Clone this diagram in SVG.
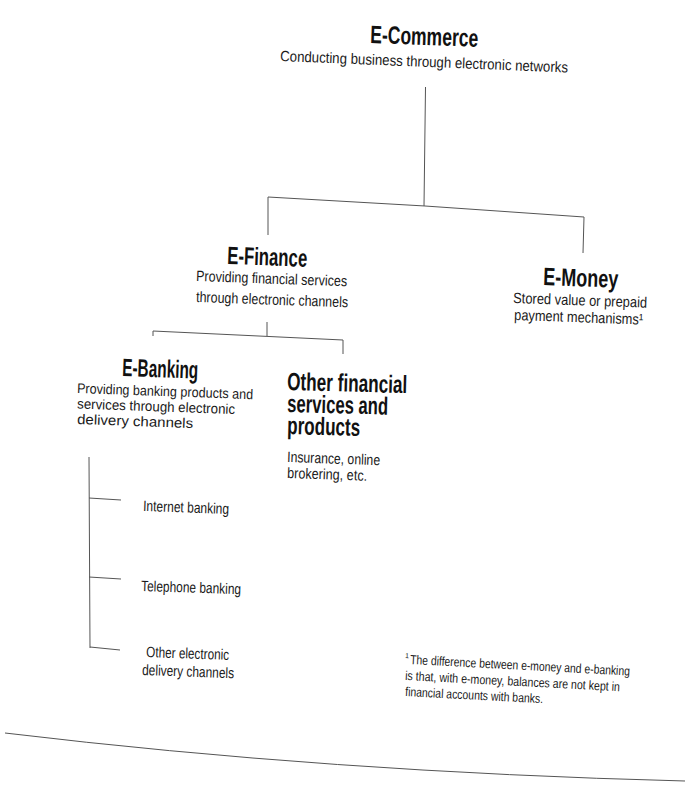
<svg xmlns="http://www.w3.org/2000/svg" width="687" height="793" viewBox="0 0 687 793">
<style>
.t{font-family:"Liberation Sans",Arial,sans-serif;font-weight:bold;font-size:25px;fill:#111}
.s{font-family:"Liberation Sans",Arial,sans-serif;font-size:15px;fill:#1a1a1a}
.s14{font-size:14px}
.f{font-family:"Liberation Sans",Arial,sans-serif;font-size:13px;fill:#1a1a1a}
.sup{font-size:7px}
.c{fill:none;stroke:#555;stroke-width:1}
</style>
<rect width="687" height="793" fill="#fff"/>
<g id="connectors">
<polyline class="c" points="425.5,87 424,206"/>
<polyline class="c" points="268,235 268,197 425,206 584,217 583,253"/>
<polyline class="c" points="267,322 267,336"/>
<polyline class="c" points="153,336 153,331 343,340 343,354"/>
<polyline class="c" points="89,457 90,648"/>
<line class="c" x1="89" y1="498" x2="121" y2="500"/>
<line class="c" x1="89" y1="577" x2="121" y2="579"/>
<line class="c" x1="90" y1="647" x2="120" y2="650"/>
</g>
<g id="ecommerce">
<text class="t" x="370" y="43" textLength="108" lengthAdjust="spacingAndGlyphs" transform="rotate(2 370 43)">E-Commerce</text>
<text class="s" x="280" y="61" textLength="288" lengthAdjust="spacingAndGlyphs" transform="rotate(2.3 280 61)">Conducting business through electronic networks</text>
</g>
<g id="efinance">
<text class="t" x="227" y="264" textLength="80" lengthAdjust="spacingAndGlyphs" transform="rotate(2 227 264)">E-Finance</text>
<text class="s" x="196" y="281" textLength="151" lengthAdjust="spacingAndGlyphs" transform="rotate(2 196 281)">Providing financial services</text>
<text class="s" x="196" y="302" textLength="152" lengthAdjust="spacingAndGlyphs" transform="rotate(2 196 302)">through electronic channels</text>
</g>
<g id="emoney">
<text class="t" x="543" y="285" textLength="75" lengthAdjust="spacingAndGlyphs" transform="rotate(2 543 285)">E-Money</text>
<text class="s" x="513" y="303" textLength="134" lengthAdjust="spacingAndGlyphs" transform="rotate(2 513 303)">Stored value or prepaid</text>
<text class="s" x="514" y="320" textLength="129" lengthAdjust="spacingAndGlyphs" transform="rotate(2 514 320)">payment mechanisms¹</text>
</g>
<g id="ebanking">
<text class="t" x="122" y="376" textLength="76" lengthAdjust="spacingAndGlyphs" transform="rotate(2 122 376)">E-Banking</text>
<text class="s s14" x="77" y="393" textLength="176" lengthAdjust="spacingAndGlyphs" transform="rotate(2 77 393)">Providing banking products and</text>
<text class="s s14" x="77" y="408.5" textLength="158" lengthAdjust="spacingAndGlyphs" transform="rotate(2 77 408.5)">services through electronic</text>
<text class="s s14" x="77" y="424" textLength="116" lengthAdjust="spacingAndGlyphs" transform="rotate(2 77 424)">delivery channels</text>
</g>
<g id="other-financial">
<text class="t" x="287" y="390" textLength="120" lengthAdjust="spacingAndGlyphs" transform="rotate(1.5 287 390)">Other financial</text>
<text class="t" x="287" y="412" textLength="101" lengthAdjust="spacingAndGlyphs" transform="rotate(1.5 287 412)">services and</text>
<text class="t" x="287" y="434" textLength="73" lengthAdjust="spacingAndGlyphs" transform="rotate(1.5 287 434)">products</text>
<text class="s" x="287" y="462" textLength="93" lengthAdjust="spacingAndGlyphs" transform="rotate(2 287 462)">Insurance, online</text>
<text class="s" x="287" y="478" textLength="80" lengthAdjust="spacingAndGlyphs" transform="rotate(2 287 478)">brokering, etc.</text>
</g>
<g id="internet-banking">
<text class="s" x="143" y="511" textLength="86" lengthAdjust="spacingAndGlyphs" transform="rotate(2 143 511)">Internet banking</text>
</g>
<g id="telephone-banking">
<text class="s" x="141" y="591" textLength="100" lengthAdjust="spacingAndGlyphs" transform="rotate(1.8 141 591)">Telephone banking</text>
</g>
<g id="other-electronic">
<text class="s" x="146" y="657" textLength="83" lengthAdjust="spacingAndGlyphs" transform="rotate(2 146 657)">Other electronic</text>
<text class="s" x="142" y="675" textLength="92" lengthAdjust="spacingAndGlyphs" transform="rotate(2 142 675)">delivery channels</text>
</g>
<g id="footnote">
<text class="f sup" x="405" y="658" transform="rotate(3 405 658)">1</text>
<text class="f" x="410" y="664" textLength="220" lengthAdjust="spacingAndGlyphs" transform="rotate(3 410 664)">The difference between e-money and e-banking</text>
<text class="f" x="405" y="680" textLength="215" lengthAdjust="spacingAndGlyphs" transform="rotate(3 405 680)">is that, with e-money, balances are not kept in</text>
<text class="f" x="405" y="696" textLength="138" lengthAdjust="spacingAndGlyphs" transform="rotate(3 405 696)">financial accounts with banks.</text>
</g>
<path class="c" d="M5,733 Q330,772 685,781" stroke="#999"/>
</svg>
